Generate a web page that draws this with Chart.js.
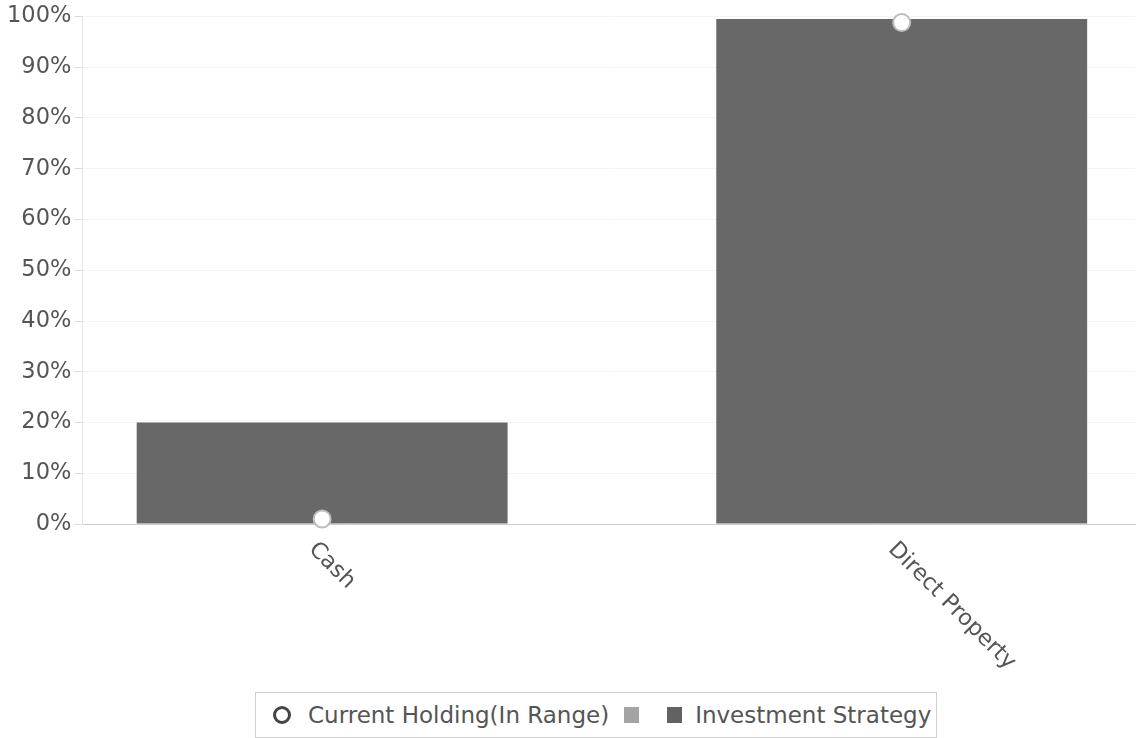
<!DOCTYPE html>
<html>
<head>
<meta charset="utf-8">
<script src="https://cdn.jsdelivr.net/npm/chart.js@4/dist/chart.umd.min.js"></script>
<style>
  html, body { margin: 0; padding: 0; background: #fff; overflow: hidden; }
  #frame { position: relative; width: 1136px; height: 738px; overflow: hidden; }
  #wrap { position: absolute; left: 0; top: 0; width: 1146px; height: 674px; }
  #legend {
    position: absolute; left: 255px; top: 692px; width: 682px; height: 46px;
    border: 1px solid #cfcfcf; box-sizing: border-box;
    font-family: "DejaVu Sans", sans-serif; font-size: 23px; color: #555;
    display: flex; align-items: center; padding-left: 17px; white-space: nowrap;
  }
  .item { display: flex; align-items: center; margin-right: 15px; flex-shrink: 0; }
  .circle { width: 12px; height: 12px; border: 3px solid #444; border-radius: 50%; margin-right: 17px; }
  .sq { width: 15px; height: 16px; margin-right: 13px; }
</style>
</head>
<body>
<div id="frame">
  <div id="wrap"><canvas id="chart"></canvas></div>
  <div id="legend"></div>
</div>
<script>
const categories = ['Cash', 'Direct Property'];
const strategyValues = [20, 99.5];
const holdingValues = [1, 98.8];
const yMin = 0, yMax = 100, yStep = 10;
const legendLabels = ['Current Holding(In Range)', '', 'Investment Strategy'];

// visible x range in category units (plot starts a little before Cash, is cut after Direct Property)
const xMin = -0.4138, xMax = 1.4034;

const BAR_COLOR = '#686868';
const LABEL_FONT = '"DejaVu Sans", sans-serif';

// x labels run down-right from the tick, which chart.js can't do natively
const slantLabels = {
  id: 'slantLabels',
  afterDraw(chart) {
    const scale = chart.scales.x;
    const ctx = chart.ctx;
    ctx.save();
    ctx.font = '22.5px ' + LABEL_FONT;
    ctx.fillStyle = '#555';
    ctx.textAlign = 'left';
    ctx.textBaseline = 'middle';
    categories.forEach((label, i) => {
      const x = scale.getPixelForValue(i);
      ctx.save();
      ctx.translate(x - 10, scale.top + 22);
      ctx.rotate(Math.PI / 4);
      ctx.fillText(label, 0, 0);
      ctx.restore();
    });
    ctx.restore();
  }
};

const ctx = document.getElementById('chart').getContext('2d');
new Chart(ctx, {
  type: 'bar',
  data: {
    datasets: [{
      type: 'line',
      label: legendLabels[0],
      data: holdingValues.map((v, i) => ({ x: i, y: v })),
      showLine: false,
      pointRadius: 8.5,
      pointBackgroundColor: '#fff',
      pointBorderColor: '#bdbdbd',
      pointBorderWidth: 2,
      clip: false
    }, {
      label: legendLabels[2],
      data: strategyValues.map((v, i) => ({ x: i, y: v })),
      backgroundColor: BAR_COLOR,
      barPercentage: 0.8,
      categoryPercentage: 0.8
    }]
  },
  options: {
    responsive: true,
    maintainAspectRatio: false,
    animation: false,
    layout: { padding: { left: 4, top: 8, right: 0, bottom: 150 } },
    plugins: {
      legend: { display: false },
      tooltip: { enabled: false }
    },
    scales: {
      x: {
        type: 'linear',
        min: xMin,
        max: xMax,
        offset: false,
        afterBuildTicks: scale => {
          scale.ticks = categories.map((c, i) => ({ value: i }));
        },
        grid: { display: false, drawTicks: false },
        border: { display: true, color: '#cccccc' },
        ticks: { display: false }
      },
      y: {
        min: yMin,
        max: yMax,
        grid: { color: '#f4f4f4', tickColor: '#dddddd', tickLength: 8 },
        border: { display: true, color: '#e6e6e6' },
        ticks: {
          stepSize: yStep,
          color: '#555',
          padding: 3,
          font: { family: LABEL_FONT, size: 22.5 },
          callback: v => v + '%'
        }
      }
    }
  },
  plugins: [slantLabels]
});

// legend box built from the labels
const legendEl = document.getElementById('legend');
const markers = ['circle', 'light', 'dark'];
legendLabels.forEach((label, i) => {
  const item = document.createElement('div');
  item.className = 'item';
  const mark = document.createElement('div');
  if (markers[i] === 'circle') {
    mark.className = 'circle';
  } else {
    mark.className = 'sq';
    mark.style.background = markers[i] === 'light' ? '#a3a3a3' : '#626262';
  }
  item.appendChild(mark);
  if (label) item.appendChild(document.createTextNode(label));
  legendEl.appendChild(item);
});
</script>
</body>
</html>
